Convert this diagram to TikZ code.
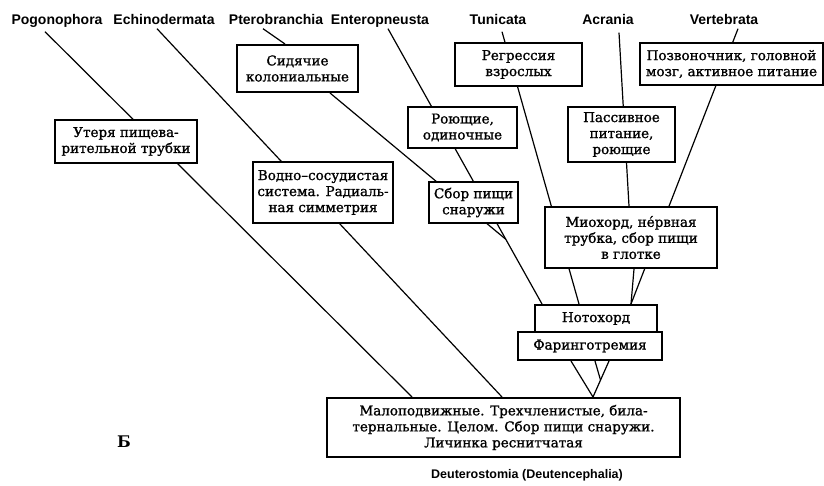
\documentclass[tikz,border=0pt]{standalone}
\usepackage{fontspec}
\setmainfont{DejaVu Serif}
\newfontfamily\boxfont{DejaVu Serif}[FakeBold=1.2]
\newfontfamily\lblfont{Liberation Sans}
\usetikzlibrary{calc,backgrounds}

\begin{document}
\begin{tikzpicture}[
  x=1pt, y=-1pt,
  box/.style={draw, line width=2pt, fill=white, align=center, inner sep=1pt, font=\boxfont\fontsize{13.5}{16}\selectfont},
  taxon/.style={font=\lblfont\bfseries\fontsize{14}{15}\selectfont, inner sep=1pt, text height=10pt, text depth=3pt},
  ln/.style={line width=1.2pt}
]
\useasboundingbox (0,0) rectangle (824,485);
% taxa
\node[taxon] (pogo) at (57,21) {Pogonophora};
\node[taxon] (echi) at (164,21) {Echinodermata};
\node[taxon] (ptero) at (276,21) {Pterobranchia};
\node[taxon] (ent) at (380,21) {Enteropneusta};
\node[taxon] (tun) at (498,21) {Tunicata};
\node[taxon] (acr) at (608,21) {Acrania};
\node[taxon] (vert) at (724,21) {Vertebrata};
% traits
\node[box, minimum width=121pt, minimum height=47pt] (sid) at (297.5,68.5) {Сидячие\\колониальные};
\node[box, minimum width=142pt, minimum height=43pt] (uter) at (126,141.5) {Утеря пищева-\\рительной трубки};
\node[box, minimum width=140pt, minimum height=61pt] (vodno) at (323,192.5) {Водно–сосудистая\\система. Радиаль-\\ная симметрия};
\node[box, minimum width=109pt, minimum height=41pt] (royu) at (462.5,127.5) {Роющие,\\одиночные};
\node[box, minimum width=89pt, minimum height=41pt] (sbor) at (473.5,202.5) {Сбор пищи\\снаружи};
\node[box, minimum width=127pt, minimum height=43pt] (regr) at (518.5,64.5) {Регрессия\\взрослых};
\node[box, minimum width=107pt, minimum height=55pt] (pass) at (621.5,134.5) {Пассивное\\питание,\\роющие};
\node[box, minimum width=183pt, minimum height=42pt] (pozv) at (731.5,64) {Позвоночник, головной\\мозг, активное питание};
\node[box, minimum width=172pt, minimum height=61pt] (mio) at (631,237.5) {Миохорд, не́рвная\\трубка, сбор пищи\\в глотке};
\node[box, minimum width=122pt, minimum height=27pt] (noto) at (596,318.5) {Нотохорд};
\node[box, minimum width=144pt, minimum height=28pt] (phar) at (590,346) {Фаринготремия};
\node[box, minimum width=353pt, minimum height=59pt] (base) at (503.5,427.5) {Малоподвижные. Трехчленистые, била-\\тернальные. Целом. Сбор пищи снаружи.\\Личинка реснитчатая};
\node[font=\bfseries\fontsize{16}{16}\selectfont] (bb) at (124,442) {Б};
\node[font=\lblfont\bfseries\fontsize{12.5}{13}\selectfont] (deut) at (527,475) {Deuterostomia (Deutencephalia)};
% branches
\begin{scope}[on background layer]
\draw[ln] ([xshift=-12pt,yshift=-3pt]pogo.south) -- ([xshift=86pt]base.north west);
\draw[ln] ([xshift=-7pt]echi.south) -- ([xshift=176pt]base.north west);
\draw[ln] ([xshift=8pt]ent.south) -- coordinate[pos=0.765] (junc) ([xshift=8pt]noto.north west);
\draw[ln] ([xshift=-13pt]ptero.south) -- ([xshift=-12.5pt]sid.north);
\draw[ln] ([xshift=32.5pt]sid.south) -- (junc);
\draw[ln] ([xshift=4pt,yshift=-3pt]tun.south) -- ([xshift=45pt]noto.north west);
\draw[ln] ([xshift=11pt,yshift=-4pt]acr.south) -- ([xshift=-2pt]mio.north);
\draw[ln] ([xshift=3pt]mio.south) -- ([xshift=97pt]noto.north west);
\draw[ln] ([xshift=14pt]vert.south) -- ([xshift=97pt]noto.north west);
\draw[ln] ([xshift=54pt]phar.south west) -- ([xshift=267pt]base.north west);
\draw[ln] ([xshift=92pt]phar.south west) -- coordinate[pos=0.53] (pj) ([xshift=267pt]base.north west);
\draw[ln] ([xshift=78pt]phar.south west) -- (pj);
\end{scope}
\end{tikzpicture}
\end{document}
